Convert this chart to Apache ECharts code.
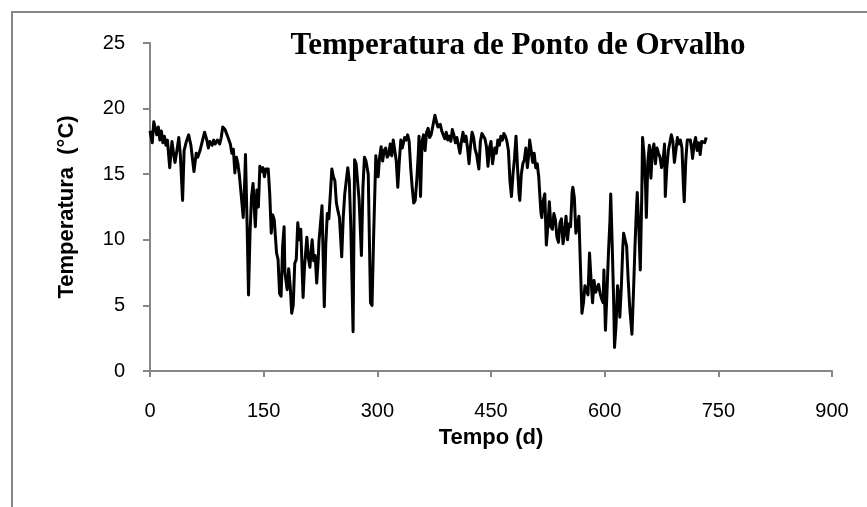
<!DOCTYPE html>
<html>
<head>
<meta charset="utf-8">
<script src="https://cdn.jsdelivr.net/npm/echarts@6/dist/echarts.min.js"></script>
<style>
  html, body { margin: 0; padding: 0; background: #fff; }
  #chart { width: 867px; height: 507px; }
</style>
</head>
<body>
<div id="chart"></div>
<script>
// Dew point temperature over the measurement period
const days = [
  0, 3, 5, 7, 9, 11, 13, 15, 17, 19, 21, 23, 26, 29, 31, 33, 36, 38, 40, 43,
  45, 48, 51, 54, 58, 61, 63, 66, 69, 72, 75, 77, 79, 82, 84, 86, 89, 92, 94, 96,
  99, 101, 103, 106, 108, 110, 112, 114, 116, 118, 121, 123, 125, 126, 128, 130, 132, 134, 136, 138,
  139, 141, 143, 145, 147, 149, 151, 153, 156, 158, 160, 162, 164, 167, 169, 171, 173, 175, 177, 178,
  181, 183, 185, 187, 189, 191, 193, 195, 197, 199, 202, 204, 207, 209, 211, 213, 214, 216, 218, 220,
  222, 223, 225, 227, 230, 232, 234, 236, 238, 240, 242, 244, 246, 248, 250, 253, 255, 257, 259, 261,
  263, 265, 268, 270, 272, 274, 276, 279, 281, 283, 285, 288, 291, 293, 295, 298, 301, 303, 305, 307,
  309, 311, 313, 315, 317, 319, 321, 323, 325, 327, 329, 331, 333, 336, 338, 340, 342, 344, 346, 348,
  350, 352, 354, 355, 357, 359, 361, 363, 365, 367, 369, 371, 373, 376, 378, 380, 383, 385, 387, 389,
  391, 393, 395, 397, 399, 401, 403, 405, 407, 409, 411, 413, 415, 417, 419, 421, 423, 425, 427, 429,
  431, 434, 436, 438, 440, 442, 444, 446, 448, 450, 452, 455, 457, 459, 461, 463, 465, 467, 469, 471,
  473, 475, 477, 479, 481, 483, 485, 487, 488, 490, 492, 494, 496, 498, 500, 501, 503, 505, 507, 509,
  511, 513, 514, 516, 517, 519, 521, 523, 525, 527, 529, 531, 533, 535, 537, 539, 541, 543, 545, 547,
  549, 551, 553, 555, 557, 558, 560, 562, 564, 566, 568, 570, 572, 574, 576, 578, 580, 582, 584, 586,
  588, 590, 592, 594, 596, 598, 599, 601, 603, 605, 607, 608, 610, 612, 613, 615, 617, 619, 620, 622,
  624, 625, 627, 629, 631, 633, 635, 636, 638, 640, 642, 643, 645, 647, 649, 650, 652, 654, 655, 657,
  659, 661, 663, 665, 667, 669, 671, 673, 675, 677, 679, 680, 682, 684, 686, 688, 690, 692, 694, 696,
  698, 700, 702, 704, 705, 707, 709, 711, 713, 715, 716, 718, 720, 722, 724, 726, 728, 730, 732, 734
];

const dewPoint = [
  18.3, 17.4, 19.0, 18.9, 18.0, 18.6, 17.6, 18.3, 17.4, 17.9, 17.2, 17.6, 15.5, 17.5, 16.6, 15.9, 17.0, 17.8, 16.5, 13.0,
  16.8, 17.5, 18.0, 17.2, 15.2, 16.6, 16.3, 16.8, 17.5, 18.2, 17.6, 17.0, 17.5, 17.2, 17.6, 17.3, 17.6, 17.3, 17.8, 18.6,
  18.4, 18.1, 17.8, 17.3, 16.6, 16.9, 15.1, 16.3, 15.8, 14.9, 13.0, 11.7, 14.5, 16.5, 11.5, 5.8, 10.5, 13.3, 14.3, 12.0,
  11.0, 13.8, 12.5, 15.6, 15.2, 15.5, 14.8, 15.4, 15.4, 13.5, 10.5, 11.9, 11.5, 9.0, 8.5, 5.9, 5.7, 9.5, 11.0, 7.5,
  6.2, 7.8, 6.5, 4.4, 5.0, 8.2, 8.5, 11.3, 10.0, 10.8, 5.6, 8.0, 10.2, 8.6, 7.9, 9.4, 10.0, 8.4, 8.8, 6.7,
  8.5, 9.9, 10.0, 12.6, 4.9, 9.7, 12.0, 11.6, 13.5, 15.4, 14.8, 14.5, 12.8, 12.2, 11.7, 8.7, 11.7, 13.5, 14.5, 15.5,
  14.5, 11.0, 3.0, 16.1, 15.8, 14.4, 13.0, 8.8, 14.0, 16.3, 16.0, 15.0, 5.2, 5.0, 10.0, 16.4, 14.8, 16.3, 17.1, 16.0,
  16.8, 17.0, 16.3, 16.5, 17.3, 16.4, 17.6, 17.5, 16.0, 14.0, 16.0, 17.6, 17.0, 17.8, 17.6, 18.0, 17.5, 15.5, 14.0, 12.8,
  13.0, 14.5, 16.5, 17.9, 13.3, 17.5, 18.0, 16.8, 18.2, 18.5, 17.8, 18.0, 18.6, 19.5, 19.0, 18.6, 18.8, 18.3, 18.0, 17.7,
  18.2, 17.6, 17.9, 17.5, 18.4, 18.0, 17.4, 17.8, 17.9, 16.6, 17.5, 18.2, 17.5, 17.9, 17.0, 15.8, 17.2, 18.2, 17.8, 16.9,
  16.5, 15.4, 17.5, 18.1, 18.2, 17.7, 17.1, 15.6, 17.0, 17.5, 15.8, 17.0, 16.6, 17.6, 17.2, 17.9, 17.6, 18.1, 17.9, 17.5,
  16.8, 14.5, 13.3, 15.0, 16.2, 17.9, 15.5, 13.5, 13.0, 15.0, 15.8, 16.1, 17.0, 15.5, 16.6, 17.6, 16.8, 15.9, 16.6, 15.5,
  15.8, 14.8, 13.8, 12.0, 11.7, 13.0, 13.5, 9.6, 11.0, 12.9, 11.0, 10.8, 12.0, 11.5, 10.2, 9.8, 11.3, 11.6, 9.7, 10.5,
  11.8, 10.0, 11.2, 11.0, 13.6, 14.0, 13.2, 10.5, 11.0, 11.8, 8.0, 4.4, 5.2, 6.5, 6.6, 5.8, 9.0, 7.0, 5.2, 6.9,
  6.0, 6.3, 6.6, 5.9, 5.5, 5.2, 7.7, 3.1, 5.9, 9.0, 11.5, 13.5, 9.5, 5.0, 1.8, 3.5, 6.5, 5.5, 4.1, 6.4,
  9.5, 10.5, 10.0, 9.5, 7.0, 4.9, 3.5, 2.8, 6.0, 9.5, 12.5, 13.6, 11.0, 7.7, 13.5, 17.8, 16.5, 14.0, 11.7, 16.0,
  17.2, 14.7, 16.8, 17.3, 15.8, 17.0, 16.6, 16.3, 15.5, 16.0, 17.3, 13.3, 15.5, 16.8, 17.4, 18.0, 17.5, 15.9, 16.8, 17.8,
  17.3, 17.6, 17.0, 14.0, 12.9, 16.0, 17.6, 17.5, 17.6, 16.8, 16.2, 17.3, 17.8, 16.8, 17.4, 16.5, 17.5, 17.6, 17.4, 17.8
];

const xTicks = { min: 0, max: 900, step: 150 };
const yTicks = { min: 0, max: 25, step: 5 };

const chartTitle = 'Temperatura de Ponto de Orvalho';
const xAxisTitle = 'Tempo (d)';
const yAxisTitle = 'Temperatura  (°C)';

const points = days.map((d, i) => [d, dewPoint[i]]);

const chart = echarts.init(document.getElementById('chart'), null, { renderer: 'canvas' });
const axisGray = '#868686';
const sansFont = '"Liberation Sans", Arial, sans-serif';

chart.setOption({
  animation: false,
  backgroundColor: '#ffffff',
  title: {
    text: chartTitle,
    left: 513,
    textAlign: 'center',
    top: 25,
    textStyle: {
      fontFamily: '"Liberation Serif", "Times New Roman", serif',
      fontWeight: 'bold',
      fontSize: 31,
      color: '#000'
    }
  },
  graphic: [{
    type: 'rect',
    shape: { x: 12, y: 12, width: 900, height: 600 },
    style: { fill: 'none', stroke: axisGray, lineWidth: 2 },
    silent: true,
    z: -1
  }],
  grid: { left: 150, right: 35, top: 43, bottom: 136, containLabel: false },
  xAxis: {
    type: 'value',
    min: xTicks.min,
    max: xTicks.max,
    interval: xTicks.step,
    name: xAxisTitle,
    nameLocation: 'middle',
    nameGap: 56,
    nameTextStyle: { fontFamily: sansFont, fontWeight: 'bold', fontSize: 22, color: '#000' },
    axisLine: { show: true, lineStyle: { color: axisGray, width: 2 } },
    axisTick: { show: true, inside: false, length: 6, lineStyle: { color: axisGray, width: 2 } },
    axisLabel: { margin: 30, fontFamily: sansFont, fontSize: 20, color: '#000' },
    splitLine: { show: false }
  },
  yAxis: {
    type: 'value',
    min: yTicks.min,
    max: yTicks.max,
    interval: yTicks.step,
    name: yAxisTitle,
    nameLocation: 'middle',
    nameRotate: 90,
    nameGap: 72,
    nameTextStyle: { fontFamily: sansFont, fontWeight: 'bold', fontSize: 22, color: '#000' },
    axisLine: { show: true, lineStyle: { color: axisGray, width: 2 } },
    axisTick: { show: true, inside: false, length: 7, lineStyle: { color: axisGray, width: 2 } },
    axisLabel: { margin: 25, fontFamily: sansFont, fontSize: 20, color: '#000' },
    splitLine: { show: false }
  },
  series: [{
    type: 'line',
    data: points,
    showSymbol: false,
    symbol: 'none',
    smooth: false,
    lineStyle: { color: '#000', width: 3, join: 'round' }
  }]
});
</script>
</body>
</html>
